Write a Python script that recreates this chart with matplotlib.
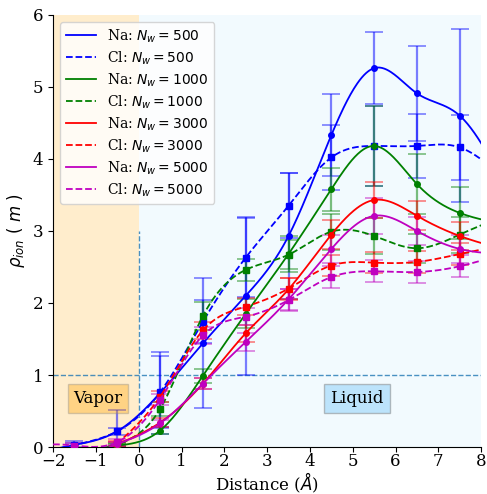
import numpy as np
import matplotlib
matplotlib.use('Agg')
import matplotlib.pyplot as plt

plt.rcParams['font.family'] = 'DejaVu Serif'
plt.rcParams['mathtext.fontset'] = 'dejavusans'

# ---- data ----
x_full = [-1.5, -0.5, 0.5, 1.5, 2.5, 3.5, 4.5, 5.5, 6.5, 7.5, 8.5]
x_part = [-0.5, 0.5, 1.5, 2.5, 3.5, 4.5, 5.5, 6.5, 7.5, 8.5]

na_500 = [0.03, 0.22, 0.75, 1.44, 2.10, 2.93, 4.33, 5.26, 4.91, 4.60, 3.70]
na_500_err = [0.05, 0.30, 0.57, 0.90, 1.10, 0.87, 0.57, 0.50, 0.66, 1.20, 1.20]
cl_500 = [0.03, 0.22, 0.76, 1.74, 2.63, 3.35, 4.02, 4.18, 4.18, 4.16, 3.75]
cl_500_err = [0.03, 0.05, 0.50, 0.30, 0.55, 0.45, 0.45, 0.55, 0.45, 0.45, 0.45]

na_1000 = [0.02, 0.23, 0.99, 1.85, 2.68, 3.58, 4.18, 3.65, 3.25, 3.10]
na_1000_err = [0.02, 0.05, 0.10, 0.20, 0.25, 0.30, 0.55, 0.42, 0.36, 0.36]
cl_1000 = [0.03, 0.53, 1.82, 2.46, 2.67, 2.99, 2.93, 2.76, 2.95, 3.20]
cl_1000_err = [0.03, 0.10, 0.20, 0.15, 0.20, 0.25, 0.25, 0.20, 0.25, 0.25]

na_3000 = [0.04, 0.34, 0.88, 1.58, 2.19, 2.95, 3.43, 3.21, 2.93, 2.75]
na_3000_err = [0.03, 0.06, 0.08, 0.12, 0.15, 0.20, 0.25, 0.20, 0.20, 0.20]
cl_3000 = [0.05, 0.70, 1.62, 1.95, 2.20, 2.52, 2.56, 2.57, 2.68, 2.80]
cl_3000_err = [0.03, 0.08, 0.12, 0.12, 0.15, 0.15, 0.15, 0.15, 0.15, 0.15]

na_5000 = [0.04, 0.33, 0.88, 1.46, 2.05, 2.75, 3.21, 3.00, 2.75, 2.68]
na_5000_err = [0.03, 0.05, 0.08, 0.12, 0.15, 0.20, 0.25, 0.20, 0.20, 0.20]
cl_5000 = [0.02, 0.07, 0.66, 1.55, 1.81, 2.04, 2.36, 2.44, 2.43, 2.51, 2.68]
cl_5000_err = [0.03, 0.04, 0.08, 0.12, 0.12, 0.15, 0.15, 0.15, 0.15, 0.15, 0.15]

series = [
    ('Na: $N_w = 500$', x_full, na_500, na_500_err, 'blue', '-', 'o'),
    ('Cl: $N_w = 500$', x_full, cl_500, cl_500_err, 'blue', '--', 's'),
    ('Na: $N_w = 1000$', x_part, na_1000, na_1000_err, 'green', '-', 'o'),
    ('Cl: $N_w = 1000$', x_part, cl_1000, cl_1000_err, 'green', '--', 's'),
    ('Na: $N_w = 3000$', x_part, na_3000, na_3000_err, 'red', '-', 'o'),
    ('Cl: $N_w = 3000$', x_part, cl_3000, cl_3000_err, 'red', '--', 's'),
    ('Na: $N_w = 5000$', x_part, na_5000, na_5000_err, 'm', '-', 'o'),
    ('Cl: $N_w = 5000$', x_full, cl_5000, cl_5000_err, 'm', '--', 's'),
]


def natural_spline(x, y, xs):
    x = np.asarray(x, float)
    y = np.asarray(y, float)
    n = len(x)
    h = np.diff(x)
    A = np.zeros((n, n))
    b = np.zeros(n)
    A[0, 0] = 1
    A[-1, -1] = 1
    for i in range(1, n - 1):
        A[i, i - 1] = h[i - 1]
        A[i, i] = 2 * (h[i - 1] + h[i])
        A[i, i + 1] = h[i]
        b[i] = 3 * ((y[i + 1] - y[i]) / h[i] - (y[i] - y[i - 1]) / h[i - 1])
    c = np.linalg.solve(A, b)
    bc = (y[1:] - y[:-1]) / h - h * (2 * c[:-1] + c[1:]) / 3
    d = (c[1:] - c[:-1]) / (3 * h)
    idx = np.clip(np.searchsorted(x, xs) - 1, 0, n - 2)
    dx = xs - x[idx]
    return y[idx] + bc[idx] * dx + c[idx] * dx ** 2 + d[idx] * dx ** 3


fig = plt.figure(figsize=(4.87, 4.94), dpi=100)
ax = fig.add_axes([0.109, 0.095, 0.879, 0.875])

ax.axvspan(-2, 0, color='orange', alpha=0.2, lw=0, zorder=0)
ax.axvspan(0, 8, color='lightskyblue', alpha=0.1, lw=0, zorder=0)
ax.plot([0, 0], [0, 3], ls='--', color='tab:blue', lw=1, alpha=0.8, zorder=1)
ax.axhline(1, ls='--', color='tab:blue', lw=1, alpha=0.8, zorder=1)

for label, xs, ys, es, col, ls, mk in series:
    ax.errorbar(xs, ys, yerr=es, fmt='none', ecolor=col, capsize=6.5,
                elinewidth=1.6, capthick=1.2, alpha=0.5, zorder=2)
    ax.plot(xs, ys, mk, color=col, ms=4, zorder=3)
    xx = np.linspace(xs[0] - 0.5, xs[-1], 400)
    yy = natural_spline(xs, ys, xx)
    ax.plot(xx, yy, ls=ls, color=col, lw=1.3, label=label, zorder=3)

ax.text(-0.95, 0.67, 'Vapor', ha='center', va='center', fontsize=12,
        bbox=dict(boxstyle='square,pad=0.35', facecolor='orange', alpha=0.35,
                  edgecolor='gray'), zorder=4)
ax.text(5.1, 0.67, 'Liquid', ha='center', va='center', fontsize=12,
        bbox=dict(boxstyle='square,pad=0.35', facecolor='lightskyblue', alpha=0.5,
                  edgecolor='gray'), zorder=4)

ax.set_xlim(-2, 8)
ax.set_ylim(0, 6)
ax.set_xticks(range(-2, 9))
ax.set_yticks(range(0, 7))
ax.tick_params(labelsize=12)
ax.tick_params(axis='x', pad=1)
ax.spines['top'].set_visible(False)
ax.spines['right'].set_visible(False)
ax.set_xlabel('Distance ($Å$)', fontsize=12, labelpad=0)
ax.set_ylabel(r'$\rho_{ion}\ (\ m\ )$', fontsize=12)
ax.legend(loc='upper left', fontsize=10, handlelength=2.2, labelspacing=0.33)

fig.savefig('out.png', dpi=100)
